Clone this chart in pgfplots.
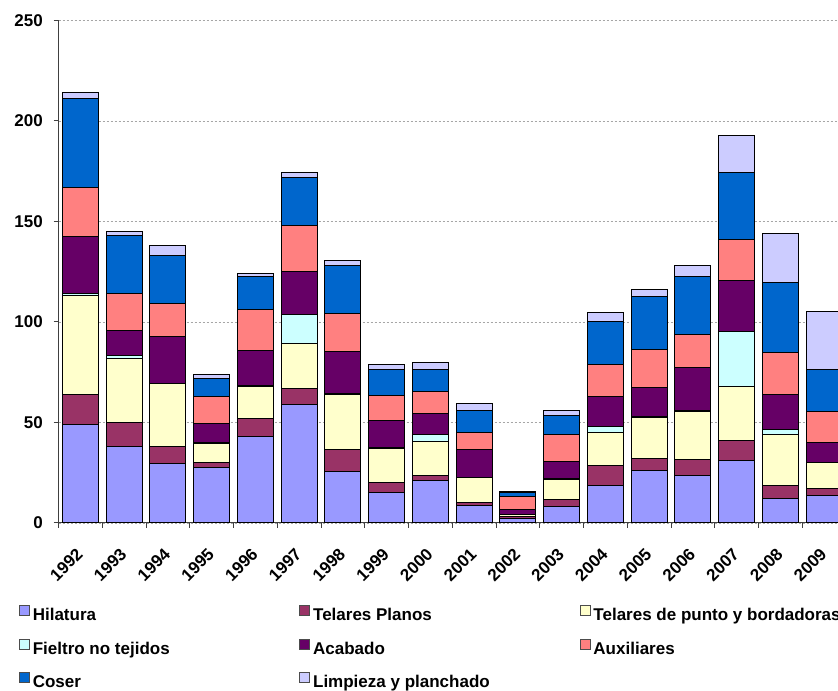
\documentclass[border=0pt]{standalone}
\usepackage{fontspec}
\setmainfont{Liberation Sans}
\usepackage{pgfplots}
\pgfplotsset{compat=1.18}
\usepackage{pgfplotstable}

\definecolor{cHil}{HTML}{9999FF}
\definecolor{cTP}{HTML}{993366}
\definecolor{cTPB}{HTML}{FFFFCC}
\definecolor{cF}{HTML}{CCFFFF}
\definecolor{cA}{HTML}{660066}
\definecolor{cAux}{HTML}{FF8080}
\definecolor{cC}{HTML}{0066CC}
\definecolor{cL}{HTML}{CCCCFF}

\newcommand\chartfont{\fontsize{12.75}{15}\selectfont\bfseries}
\newcommand\legtext[1]{\makebox[199.9pt][l]{\rule[-7.8pt]{0pt}{24.75pt}#1}}

\pgfplotstableread{
x H TP TPB F A Aux C L
0 49.0 14.8 49.2 1.1 28.4 24.4 44.4 2.7
1 38.2 11.6 31.9 1.4 12.9 18.1 28.8 2.0
2 29.4 8.8 31.0 0.3 23.1 16.4 24.1 5.0
3 27.7 2.5 9.2 0.8 9.3 13.3 9.0 2.3
4 43.2 9.0 15.9 0.2 17.3 20.7 16.2 1.5
5 59.1 7.7 22.4 14.6 21.1 23.1 24.1 2.3
6 25.6 11.1 27.3 0.2 20.9 18.9 24.1 2.3
7 15.1 5.2 16.9 0.2 13.8 12.3 12.8 2.5
8 21.0 2.6 16.8 3.4 10.8 10.6 11.1 3.7
9 8.5 1.8 12.2 0.1 13.8 8.7 10.8 3.5
10 2.0 1.0 1.0 0.2 2.6 6.5 1.7 0.8
11 8.0 3.7 10.1 0.1 8.5 13.7 9.5 2.5
12 18.8 9.9 16.5 3.0 14.8 15.7 21.3 4.8
13 25.9 6.3 20.4 0.2 14.6 18.8 26.4 3.6
14 23.4 8.2 24.0 0.2 21.8 16.4 28.8 5.4
15 31.2 10.0 26.9 27.1 25.2 20.5 33.7 18.4
16 12.3 6.5 25.2 2.3 17.7 20.6 35.2 24.2
17 13.6 3.5 13.0 0.2 9.9 15.1 21.3 28.7
}\datatable

\begin{document}
\begin{tikzpicture}
\useasboundingbox (0,0) rectangle (628.5pt,518.25pt);
\clip (0,0) rectangle (628.5pt,518.25pt);
\begin{axis}[
  at={(43.875pt,126pt)}, anchor=south west,
  scale only axis, width=590.625pt, height=376.875pt,
  xmin=-0.5, xmax=17.5, ymin=0, ymax=250,
  ybar stacked, bar width=0.82,
  axis x line*=bottom, axis y line*=left,
  axis line style={black!75, line width=0.75pt},
  tick style={black!75, line width=0.75pt},
  tick align=outside, major tick length=3.75pt,
  ytick={0,50,...,250},
  xtick={-0.5,0.5,...,17.5},
  xticklabels={1992,1993,1994,1995,1996,1997,1998,1999,2000,2001,2002,2003,2004,2005,2006,2007,2008,2009},
  x tick label as interval,
  xticklabel style={xshift=2pt, yshift=-15pt, rotate=45, anchor=east},
  yticklabel style={xshift=-4.5pt},
  ticklabel style={font=\chartfont},
  /pgf/number format/assume math mode=true,
  ymajorgrids,
  grid style={gray!70, line width=0.6pt, dash pattern=on 2pt off 1pt},
  every axis plot/.append style={draw=black, line width=0.75pt},
  every axis plot post/.append style={legend image code/.code={\draw[##1,draw=black!70,line width=0.6pt] (0pt,-3.75pt) rectangle (7.5pt,3.75pt);}},
  legend columns=3,
  legend cell align=left,
  legend style={draw=none, fill=none, inner sep=0pt, outer sep=0pt,
    at={(axis description cs:-0.05016,-0.1498)}, anchor=north west,
    font=\chartfont, row sep=6.6pt,
    nodes={inner sep=0pt},
    /tikz/every odd column/.append style={column sep=2.25pt},
    /tikz/every even column/.append style={column sep=0pt}},
]
\addplot[fill=cHil] table[x=x,y=H] \datatable; \addlegendentry{\legtext{Hilatura}}
\addplot[fill=cTP] table[x=x,y=TP] \datatable; \addlegendentry{\legtext{Telares Planos}}
\addplot[fill=cTPB] table[x=x,y=TPB] \datatable; \addlegendentry{\legtext{Telares de punto y bordadoras}}
\addplot[fill=cF] table[x=x,y=F] \datatable; \addlegendentry{\legtext{Fieltro no tejidos}}
\addplot[fill=cA] table[x=x,y=A] \datatable; \addlegendentry{\legtext{Acabado}}
\addplot[fill=cAux] table[x=x,y=Aux] \datatable; \addlegendentry{\legtext{Auxiliares}}
\addplot[fill=cC] table[x=x,y=C] \datatable; \addlegendentry{\legtext{Coser}}
\addplot[fill=cL] table[x=x,y=L] \datatable; \addlegendentry{\legtext{Limpieza y planchado}}
\end{axis}
\end{tikzpicture}
\end{document}
